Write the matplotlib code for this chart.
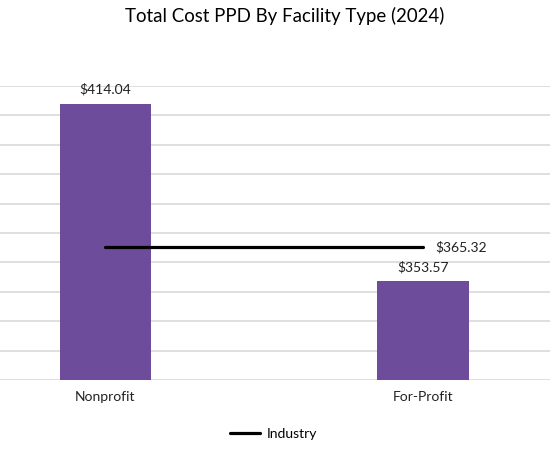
import matplotlib
matplotlib.use('Agg')
import matplotlib.pyplot as plt

# Data
categories = ['Nonprofit', 'For-Profit']
cost_ppd = [414.04, 353.57]
industry_value = 365.32
y_ticks = [320, 330, 340, 350, 360, 370, 380, 390, 400, 410, 420]

BAR_COLOR = '#6E4C9C'
GRID_COLOR = '#D9D9D9'

plt.rcParams['font.family'] = ['Lato', 'DejaVu Sans']

fig = plt.figure(figsize=(5.5, 4.55), dpi=100)
ax = fig.add_axes([0.0, 1 - 380 / 455, 1.0, (380 - 86) / 455])

x = list(range(len(categories)))
ax.bar(x, cost_ppd, width=0.287, color=BAR_COLOR, zorder=3)

# gridlines
for yv in y_ticks:
    ax.axhline(yv, color=GRID_COLOR, linewidth=1.2, zorder=1)

# industry line from first to last category centre
ax.plot([x[0], x[-1]], [industry_value, industry_value], color='black',
        linewidth=2.3, solid_capstyle='round', zorder=4, label='Industry')
ax.text(x[-1] + 0.04, industry_value, f'${industry_value:.2f}', va='center',
        ha='left', fontsize=10, color='#222222')

# bar value labels
for xi, v in zip(x, cost_ppd):
    ax.text(xi, v + 2.8, f'${v:.2f}', ha='center', va='bottom', fontsize=10,
            color='#222222')

ax.set_xlim(-0.332, 1.40)
ax.set_ylim(320, 420)
ax.set_yticks([])
ax.set_xticks(x)
ax.set_xticklabels(categories, fontsize=10, color='#222222')
ax.tick_params(axis='x', length=0, pad=8)
for s in ax.spines.values():
    s.set_visible(False)

fig.text(0.518, 0.965, 'Total Cost PPD By Facility Type (2024)', ha='center',
         va='center', fontsize=13.4, color='black')

fig.legend(loc='center', bbox_to_anchor=(0.497, 1 - 434 / 455), frameon=False,
           fontsize=10, handlelength=2.2, handletextpad=0.45)

fig.savefig('out.png', dpi=100, facecolor='white')
